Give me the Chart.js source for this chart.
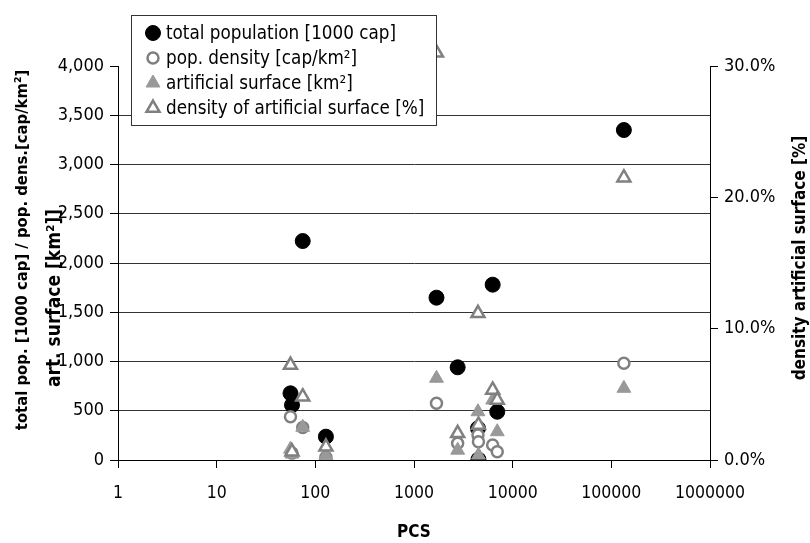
<!DOCTYPE html>
<html>
<head>
<meta charset="utf-8">
<script src="https://cdn.jsdelivr.net/npm/chart.js@4"></script>
<style>
  html, body { margin: 0; padding: 0; background: #fff; }
  #wrap { width: 810px; height: 543px; position: relative; }
</style>
</head>
<body>
<div id="wrap"><canvas id="pcsChart"></canvas></div>
<script>
// PCS value of each region (x axis, log)
const pcs = [56, 58, 74.5, 128, 1690, 2770, 4450, 4500, 6270, 6980, 134000];
// left axis series
const totalPopulation = [677, 558, 2223, 237, 1648, 941, 322, 5, 1780, 490, 3350];
const popDensity = [440, 70, 330, 27, 576, 170, 254, 186, 152, 84, 983];
const artSurface = [110, 60, 332, 45, 830, 100, 490, 50, 609, 287, 728];
// right axis series (%)
const artSurfaceDensity = [7.23, 0.63, 4.82, 1.0, 31.0, 2.03, 11.17, 2.67, 5.33, 4.57, 21.5];

const xTicks = [1, 10, 100, 1000, 10000, 100000, 1000000];
const xTickLabels = ['1', '10', '100', '1000', '10000', '100000', '1000000'];
const seriesLabels = [
  'total population [1000 cap]',
  'pop. density [cap/km\u00b2]',
  'artificial surface [km\u00b2]',
  'density of artificial surface [%]'
];

const FONT = "'Liberation Sans Narrow', 'DejaVu Sans Condensed', sans-serif";
const GREY = '#808080';

const pts = ys => pcs.map((x, i) => ({ x: x, y: ys[i] }));

function markerOpts(ds) {
  return {
    pointStyle: ds.pointStyle,
    radius: ds.pointRadius,
    borderWidth: ds.pointBorderWidth,
    rotation: 0
  };
}

// axis titles + boxed legend drawn on top of the plot, like the original
const overlay = {
  id: 'overlay',
  afterDatasetsDraw(chart) {
    // Chart.js skips points outside the chart area; the 31% point sits above the top
    const ctx = chart.ctx;
    const ds = chart.data.datasets[3];
    const sx = chart.scales.x, sy = chart.scales.y2;
    ctx.save();
    ds.data.forEach(p => {
      if (p.y <= sy.max) return;
      ctx.fillStyle = ds.pointBackgroundColor;
      ctx.strokeStyle = ds.pointBorderColor;
      ctx.lineWidth = ds.pointBorderWidth;
      Chart.helpers.drawPoint(ctx, markerOpts(ds), sx.getPixelForValue(p.x), sy.getPixelForValue(p.y));
    });
    ctx.restore();
  },
  afterDraw(chart) {
    const ctx = chart.ctx;
    ctx.save();
    ctx.fillStyle = '#000';
    ctx.textAlign = 'center';
    ctx.textBaseline = 'middle';
    ctx.font = 'bold 16.5px ' + FONT;

    ctx.save();
    ctx.translate(23, 250);
    ctx.rotate(-Math.PI / 2);
    ctx.fillText('total pop. [1000 cap] / pop. dens.[cap/km\u00b2]', 0, 0);
    ctx.restore();

    ctx.font = 'bold 19px ' + FONT;
    ctx.save();
    ctx.translate(55, 298);
    ctx.rotate(-Math.PI / 2);
    ctx.fillText('art. surface [km\u00b2]]', 0, 0);
    ctx.restore();

    ctx.font = 'bold 17px ' + FONT;
    ctx.save();
    ctx.translate(801, 258);
    ctx.rotate(-Math.PI / 2);
    ctx.fillText('density artificial surface [%]', 0, 0);
    ctx.restore();

    ctx.fillText('PCS', 414, 533);

    // legend
    ctx.fillStyle = '#fff';
    ctx.fillRect(131.5, 15.5, 305, 110);
    ctx.strokeStyle = '#333';
    ctx.lineWidth = 1;
    ctx.strokeRect(131.5, 15.5, 305, 110);
    ctx.font = '18.7px ' + FONT;
    ctx.textAlign = 'left';
    [0, 1, 2, 3].forEach((di, row) => {
      const ds = chart.data.datasets[di];
      const y = 33 + row * 25;
      ctx.fillStyle = ds.pointBackgroundColor;
      ctx.strokeStyle = ds.pointBorderColor;
      ctx.lineWidth = ds.pointBorderWidth;
      Chart.helpers.drawPoint(ctx, markerOpts(ds), 153, y);
      ctx.fillStyle = '#000';
      ctx.fillText(ds.label, 166, y + 1);
    });
    ctx.restore();
  }
};

new Chart(document.getElementById('pcsChart'), {
  type: 'scatter',
  data: {
    datasets: [
      {
        label: seriesLabels[0],
        data: pts(totalPopulation),
        yAxisID: 'y',
        pointStyle: 'circle',
        pointRadius: 7.5,
        pointBorderWidth: 1,
        pointBackgroundColor: '#000',
        pointBorderColor: '#000',
        order: 4
      },
      {
        label: seriesLabels[1],
        data: pts(popDensity),
        yAxisID: 'y',
        pointStyle: 'circle',
        pointRadius: 5.5,
        pointBorderWidth: 2.5,
        pointBackgroundColor: '#fff',
        pointBorderColor: GREY,
        order: 3
      },
      {
        label: seriesLabels[2],
        data: pts(artSurface),
        yAxisID: 'y',
        pointStyle: 'triangle',
        pointRadius: 8,
        pointBorderWidth: 1,
        pointBackgroundColor: '#999',
        pointBorderColor: '#999',
        order: 2
      },
      {
        label: seriesLabels[3],
        data: pts(artSurfaceDensity),
        yAxisID: 'y2',
        pointStyle: 'triangle',
        pointRadius: 7.5,
        pointBorderWidth: 2.5,
        pointBackgroundColor: '#fff',
        pointBorderColor: GREY,
        order: 1
      }
    ]
  },
  options: {
    responsive: true,
    maintainAspectRatio: false,
    animation: false,
    layout: { padding: { top: 66, left: 0, right: 0, bottom: 0 } },
    plugins: { legend: { display: false }, tooltip: { enabled: false } },
    scales: {
      x: {
        type: 'logarithmic',
        min: 1,
        max: 1000000,
        afterBuildTicks: s => { s.ticks = xTicks.map(v => ({ value: v })); },
        afterFit: s => { s.height = 83; },
        ticks: {
          autoSkip: false,
          maxRotation: 0,
          padding: 15,
          color: '#000',
          font: { family: FONT, size: 17.5 },
          callback: (v, i) => xTickLabels[i]
        },
        grid: { drawOnChartArea: false, tickLength: 8, tickColor: '#000' },
        border: { color: '#000' }
      },
      y: {
        position: 'left',
        min: 0,
        max: 4000,
        afterFit: s => { s.width = 118; },
        ticks: {
          stepSize: 500,
          padding: 6,
          color: '#000',
          font: { family: FONT, size: 18 },
          callback: v => v.toLocaleString('en-US')
        },
        grid: {
          color: c => (c.tick && c.tick.value === 4000) ? 'rgba(0,0,0,0)' : '#333',
          tickColor: '#000',
          tickLength: 8
        },
        border: { color: '#000' }
      },
      y2: {
        position: 'right',
        min: 0,
        max: 30,
        afterFit: s => { s.width = 100; },
        ticks: {
          stepSize: 10,
          padding: 6,
          color: '#000',
          font: { family: FONT, size: 18 },
          callback: v => v.toFixed(1) + '%'
        },
        grid: { drawOnChartArea: false, tickColor: '#000', tickLength: 8 },
        border: { color: '#000' }
      }
    }
  },
  plugins: [overlay]
});
</script>
</body>
</html>
